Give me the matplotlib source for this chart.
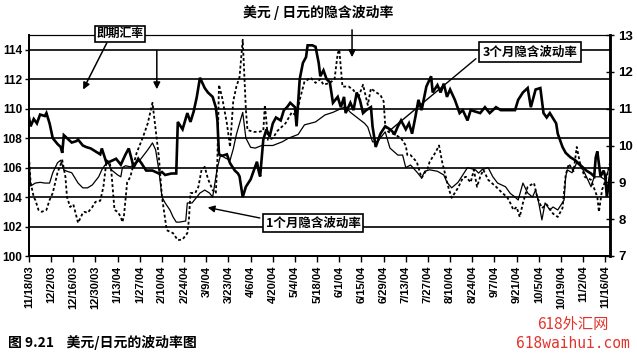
import numpy as np
import pandas as pd
import matplotlib
matplotlib.use('Agg')
import matplotlib.pyplot as plt

plt.rcParams['font.family'] = ['Liberation Sans Narrow', 'Liberation Sans', 'Noto Sans CJK SC']
CJK = ['Noto Sans CJK SC', 'DejaVu Sans']

######## data, day offsets from 11/18/03
start = pd.Timestamp('2003-11-18')

spot_day = [0, 1, 3, 5, 7, 10, 11, 13, 15, 18, 20, 21, 22, 25, 27, 30, 31, 34, 36, 39,
            42, 45, 46, 49, 53, 55, 58, 61, 63, 65, 66, 69, 71, 74, 78, 82, 84, 86, 90, 93,
            94, 97, 100, 102, 104, 106, 108, 111, 113, 116, 118, 119, 120, 122, 125, 127, 130, 132, 133, 135,
            137, 140, 142, 144, 145, 146, 148, 150, 152, 154, 156, 159, 161, 163, 165, 168, 169, 171, 173, 175,
            176, 179, 181, 183, 184, 186, 188, 190, 192, 195, 197, 199, 200, 203, 205, 207, 209, 211, 213, 216,
            217, 219, 222, 225, 228, 231, 233, 235, 238, 240, 242, 244, 246, 248, 251, 254, 255, 258, 260, 262,
            264, 266, 269, 272, 274, 277, 279, 282, 285, 288, 291, 295, 298, 301, 304, 307, 309, 312, 315, 317,
            320, 323, 325, 327, 329, 333, 334, 337, 339, 342, 345, 347, 350, 352, 355, 357, 358, 359, 361, 363,
            364, 365, 367]
spot = [109.4, 108.8, 109.3, 109.0, 109.6, 109.5, 109.7, 109.0, 108.0, 107.6, 107.4, 107.0, 108.2, 107.9, 107.7, 107.8, 107.9, 107.5, 107.4, 107.3,
        107.1, 106.9, 107.3, 106.3, 106.5, 106.6, 106.2, 106.9, 107.3, 106.5, 106.0, 106.6, 106.3, 105.8, 105.8, 105.6, 105.7, 105.5, 105.6, 105.6,
        109.1, 108.6, 109.7, 109.1, 109.8, 110.8, 112.1, 111.4, 111.1, 110.8, 110.1, 109.2, 106.9, 106.8, 106.9, 106.3, 105.8, 105.6, 105.4, 104.0,
        104.7, 105.2, 105.8, 106.4, 105.8, 105.4, 107.9, 108.6, 108.1, 109.0, 109.4, 109.2, 109.9, 110.1, 110.4, 110.1, 108.8, 112.0, 113.1, 113.5,
        114.3, 114.3, 114.2, 113.1, 112.2, 112.6, 112.0, 111.8, 110.4, 110.8, 110.1, 110.8, 109.7, 110.4, 109.9, 111.1, 110.6, 109.7, 109.9, 110.1,
        108.8, 107.4, 108.3, 108.8, 108.6, 108.3, 108.8, 109.2, 108.6, 109.0, 108.3, 109.4, 110.6, 109.9, 111.5, 112.2, 111.1, 111.6, 111.1, 111.7,
        110.8, 111.3, 110.6, 109.7, 109.9, 109.2, 109.9, 109.8, 109.7, 110.1, 109.7, 110.1, 109.9, 109.9, 109.9, 109.9, 110.6, 111.1, 111.4, 110.1,
        111.3, 111.4, 109.7, 109.4, 109.7, 109.0, 108.3, 107.4, 107.0, 106.7, 106.5, 106.3, 106.0, 105.8, 105.6, 105.4, 106.7, 107.1, 105.4, 105.8,
        105.4, 104.0, 105.5]

vol3m_day = [0, 1, 4, 7, 10, 13, 15, 18, 20, 22, 24, 27, 31, 34, 37, 40, 44, 46, 48, 50,
             52, 56, 58, 59, 61, 64, 67, 70, 75, 78, 80, 82, 84, 86, 89, 91, 93, 95, 99, 100,
             103, 106, 108, 111, 114, 116, 119, 121, 124, 127, 129, 131, 133, 135, 137, 140, 143, 147, 154, 160,
             164, 170, 174, 181, 187, 192, 197, 200, 203, 206, 209, 212, 214, 217, 220, 225, 228, 233, 236, 238,
             241, 245, 248, 250, 253, 258, 262, 264, 267, 271, 274, 277, 282, 284, 286, 290, 293, 296, 301, 304,
             307, 309, 312, 315, 318, 320, 322, 324, 326, 329, 331, 334, 338, 339, 340, 343, 346, 348, 350, 353,
             355, 357, 361, 364, 366]
vol3m = [9.7, 8.9, 8.98, 9.0, 8.98, 8.98, 9.26, 9.53, 9.6, 9.34, 9.3, 9.26, 8.98, 8.85, 8.85, 8.93, 9.15, 9.34, 9.47, 9.53,
         9.34, 9.2, 9.15, 9.4, 9.45, 9.42, 9.5, 9.6, 9.88, 10.07, 9.88, 9.34, 8.6, 8.44, 8.25, 8.06, 7.92, 7.92, 7.95, 8.44,
         8.44, 8.6, 8.71, 8.79, 8.71, 8.6, 9.4, 9.74, 9.66, 9.6, 9.9, 10.3, 10.6, 10.9, 10.2, 9.95, 9.93, 10.0, 10.0, 10.1,
         10.2, 10.3, 10.56, 10.64, 10.83, 10.9, 11.0, 11.05, 10.9, 10.8, 10.7, 10.6, 10.5, 10.1, 10.1, 10.37, 9.93, 9.74, 9.74, 9.4,
         9.47, 9.28, 9.12, 9.3, 9.34, 9.3, 9.2, 9.0, 8.85, 9.0, 9.2, 9.4, 9.34, 9.25, 9.34, 9.4, 9.15, 8.98, 8.88, 8.7,
         8.6, 8.52, 8.98, 8.71, 8.6, 8.79, 8.44, 7.98, 8.44, 8.25, 8.33, 8.25, 8.52, 9.15, 9.34, 9.26, 9.53, 9.45, 9.34, 9.07,
         8.88, 9.15, 9.15, 9.07, 9.34]

vol1m_day = [0, 1, 3, 4, 6, 8, 11, 13, 15, 18, 21, 23, 24, 26, 28, 30, 31, 34, 35, 37,
             40, 42, 45, 47, 49, 51, 52, 54, 56, 58, 59, 60, 62, 64, 68, 72, 75, 78, 82, 84,
             87, 91, 94, 97, 100, 101, 102, 105, 107, 109, 111, 113, 116, 118, 119, 120, 122, 125, 127, 129,
             131, 133, 135, 137, 138, 142, 145, 148, 149, 151, 154, 157, 162, 166, 169, 171, 174, 178, 181, 184,
             186, 190, 193, 195, 196, 198, 202, 205, 208, 211, 214, 216, 219, 222, 224, 225, 227, 231, 235, 238,
             239, 241, 245, 246, 248, 252, 253, 257, 259, 261, 263, 265, 267, 271, 274, 276, 279, 281, 283, 285,
             287, 290, 295, 299, 302, 304, 306, 308, 310, 312, 315, 319, 321, 324, 327, 331, 334, 337, 339, 341,
             344, 346, 348, 351, 355, 359, 360, 362, 365, 367]
vol1m = [9.7, 9.0, 8.6, 8.52, 8.25, 8.2, 8.25, 8.52, 8.71, 9.26, 9.6, 9.15, 8.6, 8.33, 8.4, 8.06, 7.9, 8.17, 8.2, 8.17,
         8.33, 8.47, 8.5, 8.88, 9.6, 9.53, 9.3, 8.25, 8.2, 8.06, 7.92, 8.1, 9.0, 9.15, 9.8, 10.23, 10.6, 11.16, 9.7, 8.6,
         7.7, 7.62, 7.43, 7.45, 7.62, 7.98, 8.71, 8.71, 8.88, 9.34, 9.42, 9.1, 8.79, 8.7, 9.6, 11.65, 11.3, 10.6, 9.96, 11.2,
         11.6, 11.86, 12.87, 10.97, 10.42, 10.37, 10.37, 10.4, 11.1, 10.15, 10.2, 10.4, 10.6, 10.9, 10.8, 11.24, 11.73, 11.84, 11.7, 11.8,
         11.65, 11.7, 11.8, 12.5, 12.6, 11.6, 11.6, 11.5, 11.3, 11.65, 11.1, 11.55, 11.45, 11.37, 11.2, 10.56, 10.37, 10.3, 10.2, 10.0,
         9.74, 9.74, 9.55, 9.4, 9.12, 9.4, 9.55, 9.83, 10.0, 9.55, 9.2, 8.85, 8.58, 8.85, 9.12, 9.15, 9.0, 9.34, 8.88, 9.15,
         9.34, 9.07, 8.88, 8.71, 8.6, 8.44, 8.25, 8.33, 8.06, 8.44, 8.88, 8.98, 8.6, 8.3, 8.4, 8.15, 8.06, 8.3, 9.2, 9.5,
         9.3, 9.96, 9.53, 9.15, 9.07, 8.6, 8.2, 8.8, 9.15, 9.53]

tick_labels = ['11/18/03', '12/2/03', '12/16/03', '12/30/03', '1/13/04', '1/27/04', '2/10/04',
               '2/24/04', '3/9/04', '3/23/04', '4/6/04', '4/20/04', '5/4/04', '5/18/04',
               '6/1/04', '6/15/04', '6/29/04', '7/13/04', '7/27/04', '8/10/04', '8/24/04',
               '9/7/04', '9/21/04', '10/5/04', '10/19/04', '11/2/04', '11/16/04']

spot_x = start + pd.to_timedelta(spot_day, unit='D')
v3_x = start + pd.to_timedelta(vol3m_day, unit='D')
v1_x = start + pd.to_timedelta(vol1m_day, unit='D')
tick_x = pd.to_datetime(tick_labels, format='%m/%d/%y')

### draw
fig = plt.figure(figsize=(6.37, 3.56), dpi=100)
ax = fig.add_axes([29/637, 1-256/356, 581/637, 221/356])
ax2 = ax.twinx()

ax.set_yticks(np.arange(100, 115, 2))
ax.yaxis.grid(True, color='black', lw=1.2)
ax.set_axisbelow(True)
ax.plot(spot_x, spot, color='black', lw=1.9, solid_joinstyle='miter')
ax.set_ylim(100, 115)
ax.set_xlim(start, pd.Timestamp('2004-11-19'))

ax2.plot(v3_x, vol3m, color='black', lw=0.9)
ax2.plot(v1_x, vol1m, color='black', lw=1.3, linestyle=(0, (1.6, 1.3)))
ax2.set_ylim(7, 13)
ax2.set_yticks(range(7, 14))

ax.set_xticks(tick_x)
ax.set_xticklabels(tick_labels, rotation=90, fontsize=8, fontweight='bold')
for lab in ax.get_yticklabels():
    lab.set_fontweight('bold')
for lab in ax2.get_yticklabels():
    lab.set_fontweight('bold')
ax.tick_params(axis='y', labelsize=8.5, length=3, width=1, pad=2)
ax.tick_params(axis='x', length=4, width=1, pad=3)
ax2.tick_params(axis='y', labelsize=9.5, direction='inout', length=6, width=1, pad=3)

for a in (ax, ax2):
    a.spines['top'].set_linewidth(0.8)
    a.spines['left'].set_linewidth(1.3)
    a.spines['bottom'].set_linewidth(1.3)
    a.spines['right'].set_linewidth(1.8)

### annotations (positions in axes fraction)
box = dict(boxstyle='square,pad=0.15', fc='white', ec='black', lw=1.2)
ax2.text(0.157, 1.005, '即期汇率', transform=ax2.transAxes, ha='center', va='center',
         fontsize=8.5, fontweight='bold', family=CJK, bbox=box, zorder=10)
ax2.annotate('', xy=(0.091, 0.742), xytext=(0.136, 0.975), xycoords='axes fraction',
             arrowprops=dict(arrowstyle='-|>', color='black', lw=1.1, mutation_scale=10))
ax2.annotate('', xy=(0.220, 0.742), xytext=(0.220, 0.941), xycoords='axes fraction',
             arrowprops=dict(arrowstyle='-|>', color='black', lw=1.1, mutation_scale=10))
ax2.annotate('', xy=(0.556, 0.887), xytext=(0.556, 1.036), xycoords='axes fraction',
             arrowprops=dict(arrowstyle='-|>', color='black', lw=1.1, mutation_scale=10),
             annotation_clip=False)

ax2.annotate('3个月隐含波动率', xy=(0.616, 0.557), xytext=(0.862, 0.923),
             xycoords='axes fraction', textcoords='axes fraction', ha='center', va='center',
             fontsize=9, fontweight='bold', family=CJK, bbox=dict(boxstyle='square,pad=0.3', fc='white', ec='black', lw=1.2),
             arrowprops=dict(arrowstyle='-', color='black', lw=1.0, relpos=(0, 0.4)), zorder=10)
ax2.annotate('1个月隐含波动率', xy=(0.303, 0.222), xytext=(0.489, 0.149),
             xycoords='axes fraction', textcoords='axes fraction', ha='center', va='center',
             fontsize=9, fontweight='bold', family=CJK, bbox=dict(boxstyle='square,pad=0.2', fc='white', ec='black', lw=1.2),
             arrowprops=dict(arrowstyle='-|>', color='black', lw=1.0, mutation_scale=10, relpos=(0, 0.8)), zorder=10)

fig.text(318/637, 1-13/356, '美元 / 日元的隐含波动率', ha='center', va='center',
         fontsize=10, fontweight='bold', family=CJK)
fig.text(8/637, 1-342/356, '图 9.21    美元/日元的波动率图', ha='left', va='center',
         fontsize=10, fontweight='bold', family=CJK)
fig.text(573/637, 1-325/356, '618外汇网', ha='center', va='center', color='#e3342c',
         fontsize=11, family=CJK)
fig.text(573/637, 1-343/356, '618waihui.com', ha='center', va='center', color='#e3342c',
         fontsize=10.5, family='DejaVu Sans Mono')

fig.savefig('out.png', dpi=100)
